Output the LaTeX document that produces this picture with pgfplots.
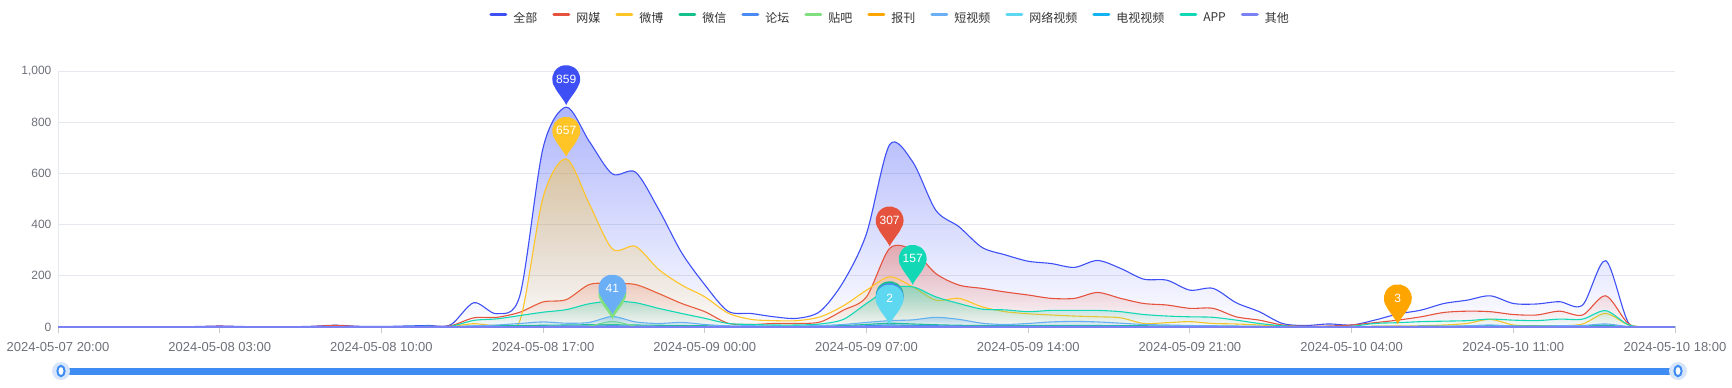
\documentclass[border=0pt]{standalone}
\usepackage{fontspec}
\setmainfont{Liberation Sans}
\newfontfamily\cjk{Noto Sans CJK SC}
\usepackage{pgfplots}
\usepackage{pgfplotstable}
\pgfplotsset{compat=1.18}
\usetikzlibrary{fadings}
\pgfplotsset{/pgf/number format/assume math mode=true}

\definecolor{cT}{HTML}{3E50F5}
\definecolor{cR}{HTML}{E5533F}
\definecolor{cY}{HTML}{FFC425}
\definecolor{cW}{HTML}{16C08C}
\definecolor{cF}{HTML}{4A8BF3}
\definecolor{cP}{HTML}{80E080}
\definecolor{cB}{HTML}{FFA500}
\definecolor{cS}{HTML}{6AAEF6}
\definecolor{cN}{HTML}{5DD8F0}
\definecolor{cD}{HTML}{12B3F0}
\definecolor{cA}{HTML}{12D8B6}
\definecolor{cO}{HTML}{7A81F2}
\definecolor{cGrid}{HTML}{E6E8EF}
\definecolor{cLabel}{HTML}{6E7079}
\definecolor{cTick}{HTML}{C8CAD0}
\definecolor{cLegend}{HTML}{333333}
\definecolor{cSlider}{HTML}{3F8CF2}
\definecolor{cHalo}{HTML}{D6E5FC}

\pgfdeclareplotmark{pin}{%
  \pgfpathmoveto{\pgfpoint{0pt}{1pt}}%
  \pgfpathcurveto{\pgfpoint{-1pt}{3.5pt}}{\pgfpoint{-4.6pt}{7.4pt}}{\pgfpoint{-5.73pt}{9.98pt}}%
  \pgfpatharc{215}{-35}{7pt}%
  \pgfpathcurveto{\pgfpoint{4.6pt}{7.4pt}}{\pgfpoint{1pt}{3.5pt}}{\pgfpoint{0pt}{1pt}}%
  \pgfpathclose
  \pgfusepathqfill
}

\pgfplotstableread{
h T R Y W F P B S N D A O
0 1 0 0 0 0 0 0 0 0 0 0 0
1 1 0 0 0 0 0 0 0 0 0 0 0
2 0 0 0 0 0 0 0 0 0 0 0 0
3 0 0 0 0 0 0 0 0 0 0 0 0
4 0 0 0 0 0 0 0 0 0 0 0 0
5 1 0 0 0 0 0 0 0 0 0 0 0
6 2 1 0 0 0 0 0 0 0 0 0 0
7 4 3 0 0 0 0 0 0 0 0 0 0
8 2 1 0 0 0 0 0 0 0 0 0 0
9 1 0 0 0 0 0 0 0 0 0 0 0
10 1 0 0 0 0 0 0 0 0 0 0 0
11 3 2 0 0 0 0 0 0 0 0 0 0
12 7 6 0 0 0 0 0 0 0 0 0 0
13 3 2 0 0 0 0 0 0 0 0 0 0
14 2 0 0 0 0 0 0 0 0 0 0 0
15 4 1 0 0 0 0 0 0 0 0 2 0
16 6 2 1 1 0 0 0 1 0 0 3 0
17 9 5 2 1 0 0 0 1 0 0 3 0
18 95 36 13 4 1 0 0 5 0 0 26 0
19 52 38 6 5 1 0 0 8 0 0 32 0
20 125 58 26 6 2 1 0 14 0 0 45 0
21 700 98 507 7 3 1 0 20 0 0 58 0
22 859 107 657 8 4 2 1 15 0 0 68 0
23 725 166 481 9 4 4 0 18 0 0 91 0
24 598 170 305 9 5 22 0 41 1 0 101 0
25 605 166 315 8 4 4 0 20 0 0 95 0
26 460 131 225 7 3 2 0 14 0 0 73 0
27 290 92 164 6 2 1 0 18 0 0 53 0
28 165 60 118 5 2 1 0 10 0 0 34 0
29 62 15 55 3 1 0 0 5 0 0 14 0
30 53 10 30 2 1 0 0 5 0 0 10 0
31 40 14 25 2 1 0 0 4 0 0 8 0
32 34 14 25 2 1 0 0 4 0 0 8 0
33 62 20 40 3 1 0 0 6 0 0 12 0
34 177 66 83 6 3 1 0 10 0 0 30 0
35 365 118 144 10 5 1 0 18 1 0 92 0
36 712 307 196 15 8 2 1 25 2 0 150 0
37 645 300 157 12 6 2 0 28 1 0 157 0
38 456 209 105 9 5 1 0 38 0 0 118 0
39 392 164 112 7 4 0 0 30 0 0 92 0
40 311 151 79 6 3 0 0 15 0 0 70 0
41 282 137 60 6 3 0 0 10 0 0 67 0
42 257 125 52 6 3 0 0 14 0 0 60 0
43 248 112 47 6 3 0 0 20 0 0 65 0
44 233 112 43 6 3 0 0 22 0 0 65 0
45 260 135 40 6 3 1 0 20 0 0 65 0
46 229 112 36 5 3 0 0 15 0 0 60 0
47 187 92 14 5 2 0 0 10 0 0 49 0
48 183 86 17 4 2 0 0 8 0 0 43 0
49 144 73 21 4 2 0 0 6 0 0 40 0
50 151 73 14 4 2 0 0 5 0 0 38 0
51 95 40 12 3 1 0 0 4 0 0 27 0
52 60 27 8 2 1 0 0 3 0 0 14 0
53 14 8 3 1 0 0 0 2 0 0 5 0
54 6 3 1 0 0 0 0 1 0 0 2 0
55 12 4 1 1 0 0 0 1 0 0 2 0
56 8 8 2 1 0 0 0 1 0 0 3 0
57 27 17 3 2 1 0 1 2 0 0 14 0
58 51 27 3 2 1 0 3 2 0 0 17 0
59 66 40 5 3 1 0 1 3 0 0 21 0
60 92 57 8 3 1 0 0 3 0 0 23 0
61 105 62 14 4 2 0 0 5 0 0 25 0
62 122 60 30 5 2 1 0 8 0 0 31 0
63 92 49 8 4 1 0 0 4 0 0 27 0
64 90 47 5 4 1 0 0 3 0 0 25 0
65 99 62 5 4 2 0 0 5 0 0 31 0
66 86 47 12 4 2 0 0 6 0 0 31 0
67 259 122 53 7 3 1 0 12 0 0 64 0
68 14 12 8 1 0 0 0 2 0 0 8 0
69 1 0 0 0 0 0 0 0 0 0 0 0
70 0 0 0 0 0 0 0 0 0 0 0 0
}\data

\newcommand{\series}[2]{%
  \addplot[draw=none, fill=#2, fill opacity=0.42, path fading=south, smooth, tension=0.5, forget plot] table[x=h,y=#1]{\data} \closedcycle;
  \addplot[#2, line width=0.55pt, smooth, tension=0.5, forget plot] table[x=h,y=#1]{\data};
}
\newcommand{\pinat}[3]{%
  \addplot[#1, only marks, mark=pin, nodes near coords, forget plot] coordinates {(#2,#3)};
}
\newcommand{\pinhidden}[3]{%
  \addplot[#1, only marks, mark=pin, forget plot] coordinates {(#2,#3)};
}

\begin{document}
\begin{tikzpicture}[x=1pt,y=1pt]
\useasboundingbox (0,0) rectangle (866,193.5);
\begin{axis}[
  at={(29pt,29.6pt)}, anchor=south west,
  scale only axis, width=808.5pt, height=128.4pt,
  xmin=0, xmax=70, ymin=-3, ymax=1000,
  axis x line*=bottom, axis y line*=left,
  axis line style={-},
  x axis line style={draw=cTick, line width=0.5pt},
  y axis line style={draw=cGrid, line width=0.5pt},
  xtick={0,7,...,70},
  xticklabels={2024-05-07 20:00,2024-05-08 03:00,2024-05-08 10:00,2024-05-08 17:00,2024-05-09 00:00,2024-05-09 07:00,2024-05-09 14:00,2024-05-09 21:00,2024-05-10 04:00,2024-05-10 11:00,2024-05-10 18:00},
  ytick={0,200,...,1000},
  ymajorgrids, grid style={draw=cGrid, line width=0.5pt},
  tick align=outside, major tick length=2.5pt,
  xtick style={draw=cTick, line width=0.5pt},
  ytick style={draw=none},
  x tick label style={anchor=base, yshift=-9.1pt, inner sep=0pt, font=\fontsize{6.5}{7}\selectfont, text=cLabel},
  y tick label style={anchor=east, xshift=-0.6pt, inner sep=0pt, font=\fontsize{6}{7}\selectfont, text=cLabel},
  every node near coord/.append style={anchor=center, yshift=14pt, text=white, font=\fontsize{6}{7}\selectfont, inner sep=0pt},
  legend image code/.code={\path[draw=none,fill=none] (0pt,0pt) rectangle (9pt,4.4pt); \draw[line width=1.6pt, line cap=round] (0.8pt,2.2pt) -- (8.2pt,2.2pt);},
  legend style={at={(0.2665,1.2083)}, anchor=west, draw=none, fill=none, inner sep=0pt,
    font=\cjk\fontsize{6}{7}\selectfont, text=cLegend, nodes={inner sep=0pt},
    /tikz/column sep=0pt,
    /tikz/every odd column/.append style={column sep=3pt},
    /tikz/every even column/.append style={column sep=7.5pt}},
  legend columns=12,
]
\addlegendimage{cT}\addlegendentry{全部}
\addlegendimage{cR}\addlegendentry{网媒}
\addlegendimage{cY}\addlegendentry{微博}
\addlegendimage{cW}\addlegendentry{微信}
\addlegendimage{cF}\addlegendentry{论坛}
\addlegendimage{cP}\addlegendentry{贴吧}
\addlegendimage{cB}\addlegendentry{报刊}
\addlegendimage{cS}\addlegendentry{短视频}
\addlegendimage{cN}\addlegendentry{网络视频}
\addlegendimage{cD}\addlegendentry{电视视频}
\addlegendimage{cA}\addlegendentry{APP}
\addlegendimage{cO}\addlegendentry{其他}

\series{T}{cT}
\series{R}{cR}
\series{Y}{cY}
\series{W}{cW}
\series{F}{cF}
\series{P}{cP}
\series{B}{cB}
\series{S}{cS}
\series{N}{cN}
\series{D}{cD}
\series{A}{cA}
\series{O}{cO}

\pinat{cT}{22}{859}
\pinat{cR}{36}{307}
\pinat{cY}{22}{657}
\pinhidden{cW}{36}{15}
\pinhidden{cF}{36}{8}
\pinhidden{cP}{24}{22}
\pinat{cB}{58}{3}
\pinat{cS}{24}{41}
\pinat{cN}{36}{2}
\pinat{cA}{37}{157}
\end{axis}
\draw[line width=3.5pt, cSlider] (30.5,8) -- (839,8);
\fill[cHalo] (30.5,8) circle (4.5);
\filldraw[fill=white, draw=cSlider, line width=1pt] (30.5,8) ellipse (1.8 and 2.6);
\fill[cHalo] (839,8) circle (4.5);
\filldraw[fill=white, draw=cSlider, line width=1pt] (839,8) ellipse (1.8 and 2.6);
\end{tikzpicture}
\end{document}
